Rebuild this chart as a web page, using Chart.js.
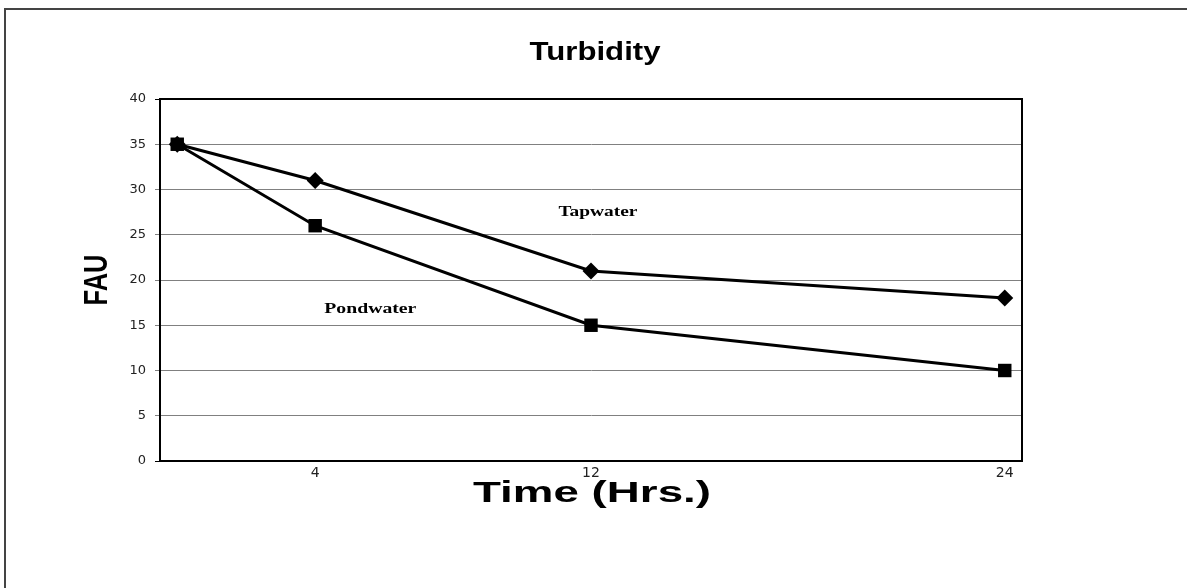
<!DOCTYPE html>
<html><head><meta charset="utf-8">
<script src="https://cdn.jsdelivr.net/npm/chart.js@4.4.0/dist/chart.umd.min.js"></script>
<style>html,body{margin:0;padding:0;background:#fff;overflow:hidden}</style>
</head><body>
<canvas id="c" width="1187" height="588"></canvas>
<script>
// ---- data ----
const hours = [0, 4, 12, 24];
const tapwater = [35, 31, 21, 18];
const pondwater = [35, 26, 15, 10];
const xTickValues = [4, 12, 24];
const seriesNames = ['Tapwater', 'Pondwater'];
const chartTitle = 'Turbidity';
const xTitle = 'Time (Hrs.)';
const yTitle = 'FAU';

// ---- styling / layout helpers ----
const textItems = [
  {text: chartTitle, x: 595, y: 53, font: 'bold 26px "Liberation Sans"', width: 131},
  {text: xTitle, x: 592, y: 494, font: 'bold 30px "Liberation Sans"', width: 238},
  {text: yTitle, x: 98, y: 280, font: 'bold 25px "Liberation Sans"', length: 51, sx: 1.35, rot: true}
];
const seriesLabels = [
  {text: seriesNames[0], dx: 12.2, dy: 27.5, width: 79},
  {text: seriesNames[1], dx: 5.6, dy: 16.8, width: 92}
];

const decor = {
  id: 'decor',
  beforeDraw(chart) {
    const c = chart.ctx;
    c.save();
    c.fillStyle = '#fff';
    c.fillRect(0, 0, chart.width, chart.height);
    c.strokeStyle = '#444';
    c.lineWidth = 2;
    c.beginPath();
    c.moveTo(5, chart.height);
    c.lineTo(5, 9);
    c.lineTo(chart.width, 9);
    c.stroke();
    c.restore();
  },
  afterDatasetsDraw(chart) {
    const c = chart.ctx;
    const a = chart.chartArea;
    c.save();
    c.strokeStyle = '#000';
    c.lineWidth = 2;
    c.strokeRect(a.left, a.top, a.right - a.left, a.bottom - a.top);
    c.fillStyle = '#000';
    c.textAlign = 'center';
    c.textBaseline = 'middle';
    for (const t of textItems) {
      c.save();
      c.font = t.font;
      c.translate(t.x, t.y);
      const w = c.measureText(t.text).width;
      if (t.rot) {
        c.scale(t.sx, 1);
        c.rotate(-Math.PI / 2);
        c.scale(t.length / w, 1);
      } else {
        c.scale(t.width / w, 1);
      }
      c.fillText(t.text, 0, 0);
      c.restore();
    }
    const xs = chart.scales.x, ys = chart.scales.y;
    for (const s of seriesLabels) {
      c.save();
      c.font = 'bold 14px "Liberation Serif"';
      const w = c.measureText(s.text).width;
      c.translate(xs.getPixelForValue(s.dx), ys.getPixelForValue(s.dy));
      c.scale(s.width / w, 1);
      c.fillText(s.text, 0, 0);
      c.restore();
    }
    c.restore();
  }
};

const toPts = arr => hours.map((h, i) => ({x: h, y: arr[i]}));

new Chart(document.getElementById('c'), {
  type: 'line',
  data: {
    datasets: [
      {label: seriesNames[0], data: toPts(tapwater), borderColor: '#000', backgroundColor: '#000',
       borderWidth: 3, pointStyle: 'rectRot', pointRadius: 8.5, pointBorderWidth: 0, tension: 0},
      {label: seriesNames[1], data: toPts(pondwater), borderColor: '#000', backgroundColor: '#000',
       borderWidth: 3, pointStyle: 'rect', pointRadius: 9.5, pointBorderWidth: 0, tension: 0}
    ]
  },
  options: {
    responsive: false,
    animation: false,
    devicePixelRatio: 1,
    layout: {padding: {left: 0, top: 99, right: 165, bottom: 77}},
    plugins: {legend: {display: false}, title: {display: false}, tooltip: {enabled: false}},
    scales: {
      x: {
        type: 'linear', min: -0.5, max: 24.5,
        afterBuildTicks: s => { s.ticks = xTickValues.map(v => ({value: v})); },
        grid: {display: false, drawTicks: false},
        border: {display: true, color: '#000', width: 2},
        ticks: {font: {family: 'DejaVu Sans', size: 14}, color: '#222', padding: 4, maxRotation: 0, autoSkip: false},
        afterFit: s => { s.height = 50; }
      },
      y: {
        min: 0, max: 40,
        ticks: {stepSize: 5, padding: 9, font: {family: 'DejaVu Sans', size: 13}, color: '#222'},
        grid: {color: ctx => (ctx.tick && (ctx.tick.value === 0 || ctx.tick.value === 40)) ? '#000' : '#808080', tickLength: 5, lineWidth: 1},
        border: {color: '#000', width: 2},
        afterFit: s => { s.width = 160; }
      }
    }
  },
  plugins: [decor]
});
</script>
</body></html>
